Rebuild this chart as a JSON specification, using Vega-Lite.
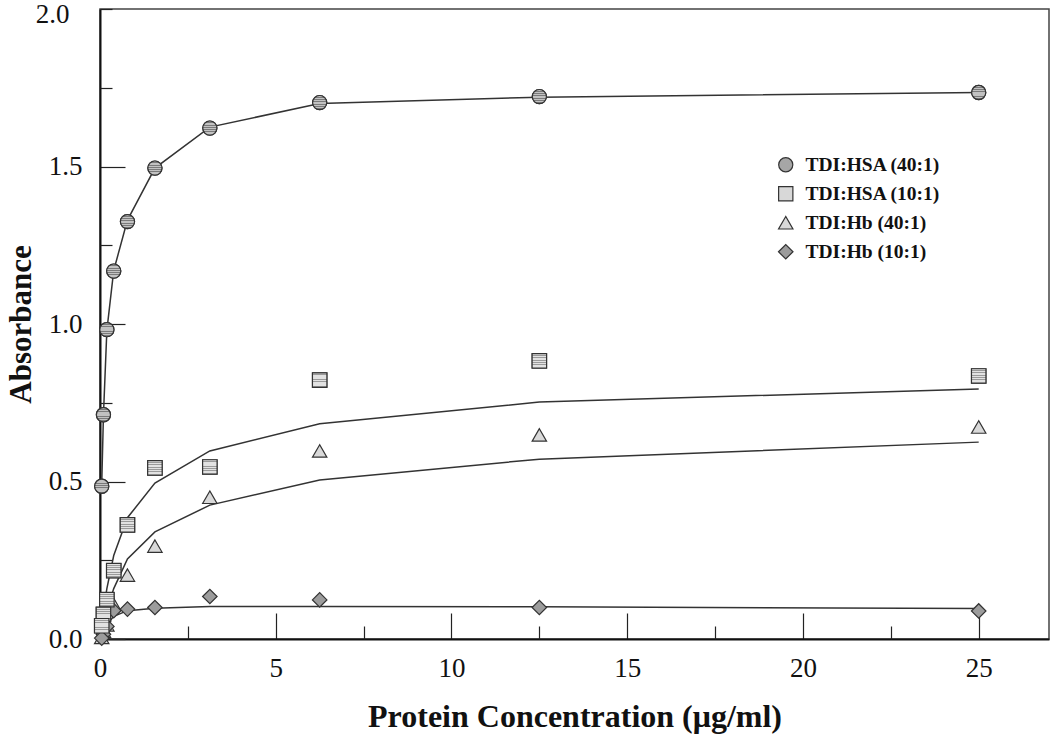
{
  "$schema": "https://vega.github.io/schema/vega-lite/v6.json",
  "width": 949,
  "height": 630,
  "autosize": "none",
  "padding": {"left": 100, "top": 9, "right": 1, "bottom": 95},
  "background": "white",
  "config": {
    "view": {"stroke": "#444", "strokeWidth": 1.5},
    "font": "Liberation Serif",
    "axis": {"grid": false, "domainColor": "#111", "domainWidth": 2, "tickColor": "#222", "tickWidth": 1.2, "labelColor": "#111", "titleColor": "#111", "labelFont": "Liberation Serif", "titleFont": "Liberation Serif", "labelFlush": false}
  },
  "data": {
    "values": [
      {"series": "TDI:HSA (40:1)", "conc": 25, "abs": 1.735, "fit": 1.735},
      {"series": "TDI:HSA (40:1)", "conc": 12.5, "abs": 1.722, "fit": 1.72},
      {"series": "TDI:HSA (40:1)", "conc": 6.25, "abs": 1.703, "fit": 1.70},
      {"series": "TDI:HSA (40:1)", "conc": 3.125, "abs": 1.622, "fit": 1.625},
      {"series": "TDI:HSA (40:1)", "conc": 1.5625, "abs": 1.495, "fit": 1.495},
      {"series": "TDI:HSA (40:1)", "conc": 0.78125, "abs": 1.325, "fit": 1.33},
      {"series": "TDI:HSA (40:1)", "conc": 0.390625, "abs": 1.168, "fit": 1.17},
      {"series": "TDI:HSA (40:1)", "conc": 0.1953, "abs": 0.982, "fit": 0.98},
      {"series": "TDI:HSA (40:1)", "conc": 0.0977, "abs": 0.712, "fit": 0.71},
      {"series": "TDI:HSA (40:1)", "conc": 0.0488, "abs": 0.485, "fit": 0.49},
      {"series": "TDI:HSA (10:1)", "conc": 25, "abs": 0.835, "fit": 0.794},
      {"series": "TDI:HSA (10:1)", "conc": 12.5, "abs": 0.883, "fit": 0.752},
      {"series": "TDI:HSA (10:1)", "conc": 6.25, "abs": 0.822, "fit": 0.683},
      {"series": "TDI:HSA (10:1)", "conc": 3.125, "abs": 0.546, "fit": 0.597},
      {"series": "TDI:HSA (10:1)", "conc": 1.5625, "abs": 0.543, "fit": 0.495},
      {"series": "TDI:HSA (10:1)", "conc": 0.78125, "abs": 0.362, "fit": 0.385},
      {"series": "TDI:HSA (10:1)", "conc": 0.390625, "abs": 0.217, "fit": 0.265},
      {"series": "TDI:HSA (10:1)", "conc": 0.1953, "abs": 0.125, "fit": 0.16},
      {"series": "TDI:HSA (10:1)", "conc": 0.0977, "abs": 0.078, "fit": 0.09},
      {"series": "TDI:HSA (10:1)", "conc": 0.0488, "abs": 0.042, "fit": 0.045},
      {"series": "TDI:Hb (40:1)", "conc": 25, "abs": 0.673, "fit": 0.625},
      {"series": "TDI:Hb (40:1)", "conc": 12.5, "abs": 0.648, "fit": 0.571},
      {"series": "TDI:Hb (40:1)", "conc": 6.25, "abs": 0.597, "fit": 0.505},
      {"series": "TDI:Hb (40:1)", "conc": 3.125, "abs": 0.45, "fit": 0.425},
      {"series": "TDI:Hb (40:1)", "conc": 1.5625, "abs": 0.295, "fit": 0.34},
      {"series": "TDI:Hb (40:1)", "conc": 0.78125, "abs": 0.203, "fit": 0.254},
      {"series": "TDI:Hb (40:1)", "conc": 0.390625, "abs": 0.11, "fit": 0.16},
      {"series": "TDI:Hb (40:1)", "conc": 0.1953, "abs": 0.045, "fit": 0.09},
      {"series": "TDI:Hb (40:1)", "conc": 0.0977, "abs": 0.025, "fit": 0.045},
      {"series": "TDI:Hb (40:1)", "conc": 0.0488, "abs": 0.005, "fit": 0.022},
      {"series": "TDI:Hb (10:1)", "conc": 25, "abs": 0.089, "fit": 0.097},
      {"series": "TDI:Hb (10:1)", "conc": 12.5, "abs": 0.1, "fit": 0.102},
      {"series": "TDI:Hb (10:1)", "conc": 6.25, "abs": 0.124, "fit": 0.103},
      {"series": "TDI:Hb (10:1)", "conc": 3.125, "abs": 0.135, "fit": 0.103},
      {"series": "TDI:Hb (10:1)", "conc": 1.5625, "abs": 0.1, "fit": 0.098},
      {"series": "TDI:Hb (10:1)", "conc": 0.78125, "abs": 0.095, "fit": 0.09},
      {"series": "TDI:Hb (10:1)", "conc": 0.390625, "abs": 0.09, "fit": 0.072},
      {"series": "TDI:Hb (10:1)", "conc": 0.1953, "abs": 0.04, "fit": 0.045},
      {"series": "TDI:Hb (10:1)", "conc": 0.0977, "abs": 0.015, "fit": 0.025},
      {"series": "TDI:Hb (10:1)", "conc": 0.0488, "abs": 0.003, "fit": 0.012}
    ]
  },
  "resolve": {"axis": {"x": "independent", "y": "independent"}},
  "layer": [
    {
      "mark": {"type": "line", "color": "#333", "strokeWidth": 1.5, "clip": true},
      "encoding": {
        "x": {"field": "conc", "type": "quantitative", "scale": {"domain": [0, 27], "nice": false, "zero": false},
          "axis": {"values": [0, 5, 10, 15, 20, 25], "tickSize": -26, "labelFontSize": 27, "labelPadding": 42, "title": "Protein Concentration (\u03bcg/ml)", "titleFontSize": 32, "titleFontWeight": "bold", "titlePadding": 20}},
        "y": {"field": "fit", "type": "quantitative", "scale": {"domain": [0, 2], "nice": false, "zero": false},
          "axis": {"values": [0, 0.5, 1, 1.5], "format": ".1f", "tickSize": -25, "labelFontSize": 27, "labelPadding": 43, "title": "Absorbance", "titleFontSize": 31, "titleFontWeight": "bold", "titlePadding": 11}},
        "detail": {"field": "series"},
        "order": {"field": "conc", "type": "quantitative"}
      }
    },
    {
      "mark": {"type": "point", "filled": true, "stroke": "#333", "strokeWidth": 1.2, "opacity": 1},
      "encoding": {
        "x": {"field": "conc", "type": "quantitative", "axis": null},
        "y": {"field": "abs", "type": "quantitative", "axis": null},
        "shape": {"field": "series", "type": "nominal",
          "scale": {"domain": ["TDI:HSA (40:1)", "TDI:HSA (10:1)", "TDI:Hb (40:1)", "TDI:Hb (10:1)"], "range": ["circle", "square", "triangle-up", "diamond"]},
          "legend": {"orient": "none", "legendX": 676, "legendY": 146, "title": null, "labelFontSize": 19.5, "labelFontWeight": "bold", "labelFont": "Liberation Serif", "labelColor": "#111", "symbolStrokeColor": "#333", "symbolStrokeWidth": 1.2, "rowPadding": 8, "labelOffset": 10}},
        "fill": {"field": "series", "type": "nominal",
          "scale": {"domain": ["TDI:HSA (40:1)", "TDI:HSA (10:1)", "TDI:Hb (40:1)", "TDI:Hb (10:1)"], "range": ["#a6a6a6", "#d8d8d8", "#d9d9d9", "#9c9c9c"]}},
        "size": {"field": "series", "type": "nominal",
          "scale": {"domain": ["TDI:HSA (40:1)", "TDI:HSA (10:1)", "TDI:Hb (40:1)", "TDI:Hb (10:1)"], "range": [200, 210, 300, 300]}}
      }
    },
    {
      "transform": [{"filter": "datum.series === 'TDI:HSA (40:1)'"}],
      "mark": {"type": "point", "shape": "circle", "size": 200, "stroke": "#333", "strokeWidth": 1.2, "opacity": 1,
        "fill": {"gradient": "linear", "x1": 0, "y1": 0, "x2": 0, "y2": 1, "stops": [
          {"offset": 0, "color": "#c2c2c2"}, {"offset": 0.1, "color": "#c2c2c2"}, {"offset": 0.1, "color": "#7a7a7a"}, {"offset": 0.16, "color": "#7a7a7a"},
          {"offset": 0.16, "color": "#c2c2c2"}, {"offset": 0.26, "color": "#c2c2c2"}, {"offset": 0.26, "color": "#7a7a7a"}, {"offset": 0.32, "color": "#7a7a7a"},
          {"offset": 0.32, "color": "#c2c2c2"}, {"offset": 0.42, "color": "#c2c2c2"}, {"offset": 0.42, "color": "#7a7a7a"}, {"offset": 0.48, "color": "#7a7a7a"},
          {"offset": 0.48, "color": "#c2c2c2"}, {"offset": 0.58, "color": "#c2c2c2"}, {"offset": 0.58, "color": "#7a7a7a"}, {"offset": 0.64, "color": "#7a7a7a"},
          {"offset": 0.64, "color": "#c2c2c2"}, {"offset": 0.74, "color": "#c2c2c2"}, {"offset": 0.74, "color": "#7a7a7a"}, {"offset": 0.8, "color": "#7a7a7a"},
          {"offset": 0.8, "color": "#c2c2c2"}, {"offset": 0.9, "color": "#c2c2c2"}, {"offset": 0.9, "color": "#7a7a7a"}, {"offset": 0.95, "color": "#7a7a7a"},
          {"offset": 0.95, "color": "#c2c2c2"}, {"offset": 1, "color": "#c2c2c2"}]}},
      "encoding": {
        "x": {"field": "conc", "type": "quantitative", "axis": null},
        "y": {"field": "abs", "type": "quantitative", "axis": null}
      }
    },
    {
      "transform": [{"filter": "datum.series === 'TDI:HSA (10:1)'"}],
      "mark": {"type": "point", "shape": "square", "size": 210, "stroke": "#333", "strokeWidth": 1.2, "opacity": 1,
        "fill": {"gradient": "linear", "x1": 0, "y1": 0, "x2": 0, "y2": 1, "stops": [
          {"offset": 0, "color": "#e2e2e2"}, {"offset": 0.1, "color": "#e2e2e2"}, {"offset": 0.1, "color": "#9a9a9a"}, {"offset": 0.16, "color": "#9a9a9a"},
          {"offset": 0.16, "color": "#e2e2e2"}, {"offset": 0.26, "color": "#e2e2e2"}, {"offset": 0.26, "color": "#9a9a9a"}, {"offset": 0.32, "color": "#9a9a9a"},
          {"offset": 0.32, "color": "#e2e2e2"}, {"offset": 0.42, "color": "#e2e2e2"}, {"offset": 0.42, "color": "#9a9a9a"}, {"offset": 0.48, "color": "#9a9a9a"},
          {"offset": 0.48, "color": "#e2e2e2"}, {"offset": 0.58, "color": "#e2e2e2"}, {"offset": 0.58, "color": "#9a9a9a"}, {"offset": 0.64, "color": "#9a9a9a"},
          {"offset": 0.64, "color": "#e2e2e2"}, {"offset": 0.74, "color": "#e2e2e2"}, {"offset": 0.74, "color": "#9a9a9a"}, {"offset": 0.8, "color": "#9a9a9a"},
          {"offset": 0.8, "color": "#e2e2e2"}, {"offset": 0.9, "color": "#e2e2e2"}, {"offset": 0.9, "color": "#9a9a9a"}, {"offset": 0.95, "color": "#9a9a9a"},
          {"offset": 0.95, "color": "#e2e2e2"}, {"offset": 1, "color": "#e2e2e2"}]}},
      "encoding": {
        "x": {"field": "conc", "type": "quantitative", "axis": null},
        "y": {"field": "abs", "type": "quantitative", "axis": null}
      }
    },
    {
      "mark": {"type": "point", "opacity": 0},
      "encoding": {
        "x": {"field": "conc", "type": "quantitative",
          "axis": {"orient": "bottom", "values": [2.5, 7.5, 12.5, 17.5, 22.5], "tickSize": -13, "labels": false, "domain": false, "title": null}},
        "y": {"field": "abs", "type": "quantitative",
          "axis": {"orient": "left", "values": [0.25, 0.75, 1.25, 1.75, 2], "tickSize": -12, "labels": true, "labelExpr": "datum.value == 2 ? '2.0' : ''", "labelFontSize": 27, "labelPadding": 43, "labelOffset": 5, "domain": false, "title": null}}
      }
    }
  ]
}
